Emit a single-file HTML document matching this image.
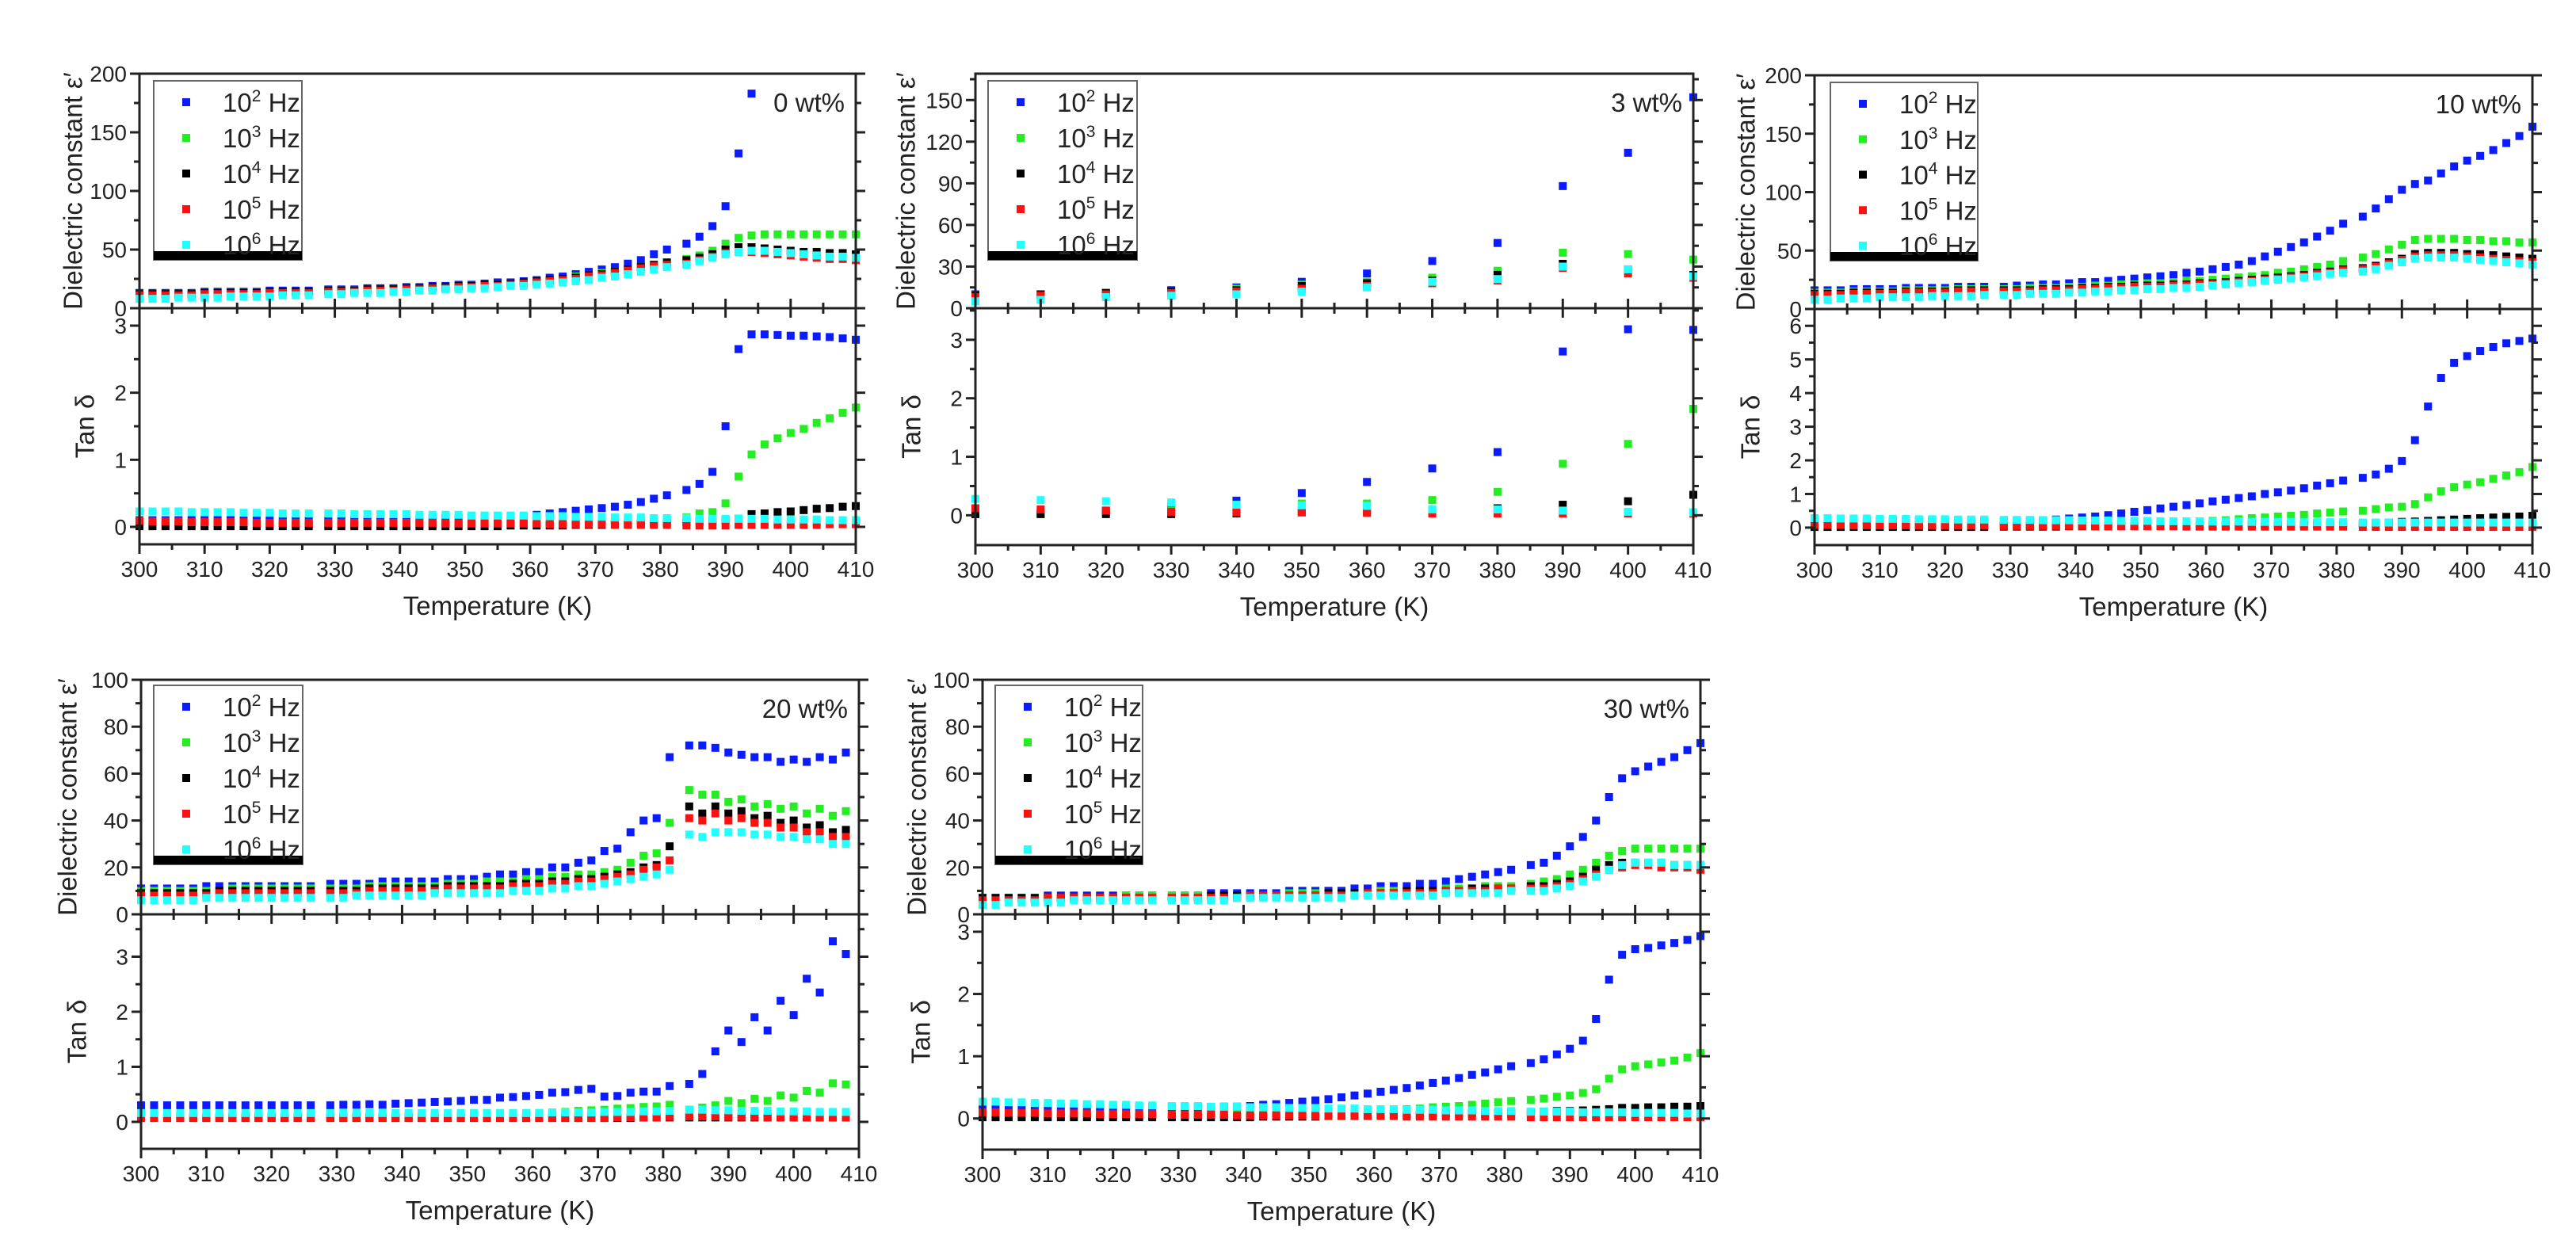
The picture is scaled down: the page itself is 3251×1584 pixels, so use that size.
<!DOCTYPE html>
<html><head><meta charset="utf-8"><style>
html,body{margin:0;padding:0;background:#fff;}
svg{display:block;font-family:"Liberation Sans",Arial,sans-serif;}
</style></head><body>
<svg id="fig" width="3251" height="1584" viewBox="0 0 3251 1584" xmlns="http://www.w3.org/2000/svg"></svg>
<script>
// ---------- data ----------
const T = [300,302,304,306,308,310,312,314,316,318,320,322,324,326,
 329,331,333,335,337,339,341,343,345,347,349,351,353,355,357,359,361,363,365,367,369,371,373,375,377,379,381,
 384,386,388,390,392,394,396,398,400,402,404,406,408,410];
const T10 = [300,310,320,330,340,350,360,370,380,390,400,410];
const T408 = [300,302,304,306,308,310,312,314,316,318,320,322,324,326,
 329,331,333,335,337,339,341,343,345,347,349,351,353,355,357,359,361,363,365,367,369,371,373,375,377,379,381,
 384,386,388,390,392,394,396,398,400,402,404,406,408];
const seriesNames = ["10^2 Hz","10^3 Hz","10^4 Hz","10^5 Hz","10^6 Hz"];
const legendExps = ["2","3","4","5","6"];
const sampleLabels = ["0 wt%","3 wt%","10 wt%","20 wt%","30 wt%"];

// 0 wt%
const eps0_f2 = [13,13,13,13,13,14,14,14,14,14,15,15,15,15, 16,16,16,17,17,17,18,18,19,19,20,20,21,22,22,23, 24,26,27,29,31,33,35,38,41,46,50, 55,61,70,87,132,183,250,260,270,280,290,300,310,320];
const eps0_f3 = [12,12,12,12,12,13,13,13,13,13,14,14,14,14, 15,15,15,16,16,16,17,17,18,18,19,19,20,20,21,22, 23,24,25,27,28,30,31,33,35,37,39, 42,45,49,55,60,62,63,63,63,63,63,63,63,63];
const eps0_f4 = [12,12,12,12,12,13,13,13,13,13,14,14,14,14, 15,15,15,16,16,16,17,17,18,18,19,19,20,20,21,22, 23,24,25,26,28,29,31,33,35,37,39, 41,43,46,50,52,52,51,50,49,48,48,47,47,46];
const eps0_f5 = [11,11,11,11,11,12,12,12,12,12,13,13,13,13, 14,14,14,15,15,15,16,16,17,17,18,18,19,19,20,21, 22,23,24,25,27,28,30,32,34,36,37, 38,41,44,47,48,48,47,46,45,44,43,42,42,41];
const eps0_f6 = [8,8,8,9,9,9,9,10,10,10,10,11,11,11, 12,12,13,13,13,14,14,15,15,16,16,17,17,18,19,19, 20,21,22,23,24,26,27,29,31,33,35, 37,40,43,46,48,49,49,48,47,46,45,44,44,43];
const tan0_f2 = [0.1,0.1,0.1,0.1,0.1,0.1,0.1,0.1,0.1,0.1,0.1,0.1,0.1,0.1, 0.11,0.11,0.11,0.11,0.11,0.12,0.12,0.12,0.12,0.13,0.13,0.13,0.14,0.14,0.15,0.15, 0.18,0.2,0.22,0.24,0.26,0.28,0.3,0.33,0.37,0.42,0.47, 0.55,0.64,0.82,1.5,2.65,2.87,2.87,2.86,2.85,2.85,2.84,2.83,2.81,2.79];
const tan0_f3 = [0.05,0.05,0.05,0.05,0.05,0.05,0.05,0.05,0.05,0.05,0.05,0.05,0.05,0.05, 0.05,0.05,0.05,0.05,0.05,0.05,0.05,0.05,0.05,0.05,0.05,0.06,0.06,0.06,0.06,0.06, 0.07,0.07,0.07,0.08,0.08,0.08,0.09,0.09,0.1,0.1,0.11, 0.14,0.2,0.22,0.35,0.75,1.08,1.23,1.32,1.4,1.46,1.55,1.62,1.7,1.78];
const tan0_f4 = [0.01,0.01,0.01,0.01,0.01,0.01,0.01,0.01,0.01,0.01,0.01,0.01,0.01,0.01, 0.01,0.01,0.01,0.01,0.01,0.01,0.01,0.01,0.01,0.01,0.01,0.01,0.01,0.01,0.02,0.02, 0.02,0.02,0.02,0.03,0.03,0.03,0.04,0.04,0.05,0.05,0.06, 0.07,0.08,0.09,0.1,0.12,0.19,0.2,0.22,0.23,0.25,0.27,0.28,0.3,0.31];
const tan0_f5 = [0.09,0.08,0.08,0.08,0.07,0.07,0.07,0.07,0.07,0.06,0.06,0.06,0.06,0.06, 0.06,0.06,0.06,0.06,0.06,0.06,0.06,0.06,0.06,0.05,0.05,0.05,0.05,0.05,0.05,0.05, 0.05,0.04,0.04,0.04,0.04,0.04,0.03,0.03,0.03,0.03,0.03, 0.02,0.02,0.02,0.02,0.03,0.03,0.03,0.03,0.03,0.03,0.03,0.04,0.04,0.04];
const tan0_f6 = [0.23,0.23,0.23,0.23,0.22,0.22,0.22,0.22,0.21,0.21,0.21,0.2,0.2,0.2, 0.2,0.2,0.19,0.19,0.19,0.19,0.19,0.18,0.18,0.18,0.18,0.17,0.17,0.17,0.17,0.17, 0.16,0.16,0.16,0.15,0.15,0.15,0.14,0.14,0.14,0.13,0.13, 0.13,0.12,0.12,0.12,0.12,0.12,0.12,0.11,0.11,0.11,0.11,0.1,0.1,0.1];

// 3 wt%
const eps3_f2 = [10,10,11,13,15,19,25,34,47,88,112,152];
const eps3_f3 = [9,10,11,12,14,17,19,22,27,40,39,35];
const eps3_f4 = [9,10,11,12,13,16,18,20,24,32,28,24];
const eps3_f5 = [8,9,10,11,12,14,16,18,20,29,25,22];
const eps3_f6 = [5,6,8,9,10,12,15,19,21,30,28,23];
const tan3_f2 = [0.05,0.05,0.08,0.15,0.25,0.38,0.57,0.8,1.08,2.8,3.18,3.17];
const tan3_f3 = [0.02,0.03,0.05,0.08,0.15,0.2,0.2,0.26,0.4,0.88,1.22,1.82];
const tan3_f4 = [0.02,0.02,0.02,0.02,0.03,0.05,0.06,0.08,0.12,0.18,0.24,0.35];
const tan3_f5 = [0.12,0.1,0.08,0.06,0.05,0.05,0.04,0.03,0.03,0.03,0.03,0.03];
const tan3_f6 = [0.28,0.26,0.24,0.22,0.18,0.17,0.16,0.1,0.1,0.08,0.06,0.05];

// 10 wt%
const eps10_f2 = [16,16,16,17,17,17,17,18,18,18,18,19,19,19, 19,20,20,21,21,22,23,23,24,25,26,27,28,29,31,32, 34,36,38,41,45,49,53,57,62,67,73, 79,86,94,102,107,110,116,122,127,131,136,142,148,156];
const eps10_f3 = [14,14,14,15,15,15,15,16,16,16,16,17,17,17, 17,17,18,18,18,19,19,20,20,21,21,22,22,23,24,24, 25,26,27,28,29,31,32,34,36,38,41, 44,47,51,55,59,60,60,60,59,59,58,58,57,57];
const eps10_f4 = [13,13,13,14,14,14,14,15,15,15,15,16,16,16, 16,16,16,17,17,17,18,18,19,19,20,20,20,21,21,22, 22,23,24,25,26,27,28,29,31,32,34, 35,37,40,43,47,48,48,48,47,47,46,45,44,43];
const eps10_f5 = [12,12,12,13,13,13,13,14,14,14,14,15,15,15, 15,15,15,16,16,16,17,17,18,18,19,19,19,20,20,21, 21,22,23,24,25,26,27,28,30,31,33, 34,36,39,42,45,46,46,46,45,44,43,42,41,40];
const eps10_f6 = [8,8,9,9,9,10,10,10,10,11,11,11,11,12, 12,12,13,13,13,14,14,15,15,16,16,17,17,18,18,19, 20,21,22,23,24,25,26,27,28,30,31, 32,34,37,40,43,44,44,44,43,42,41,40,39,38];
const tan10_f2 = [0.2,0.2,0.2,0.2,0.2,0.2,0.2,0.2,0.2,0.2,0.2,0.2,0.2,0.2, 0.2,0.2,0.2,0.22,0.24,0.27,0.3,0.33,0.37,0.42,0.47,0.52,0.57,0.62,0.67,0.72, 0.78,0.83,0.88,0.93,1.0,1.05,1.1,1.17,1.25,1.32,1.4, 1.48,1.58,1.75,1.98,2.6,3.6,4.45,4.9,5.1,5.25,5.37,5.48,5.55,5.62];
const tan10_f3 = [0.05,0.05,0.05,0.05,0.05,0.05,0.05,0.05,0.05,0.05,0.05,0.05,0.05,0.05, 0.06,0.06,0.07,0.07,0.08,0.08,0.09,0.1,0.1,0.11,0.12,0.13,0.14,0.15,0.16,0.18, 0.2,0.22,0.25,0.28,0.3,0.33,0.35,0.38,0.42,0.45,0.48, 0.5,0.55,0.6,0.62,0.7,0.9,1.08,1.2,1.28,1.35,1.45,1.55,1.65,1.8];
const tan10_f4 = [0.02,0.02,0.02,0.02,0.02,0.02,0.02,0.02,0.02,0.02,0.02,0.02,0.02,0.02, 0.03,0.03,0.03,0.03,0.03,0.04,0.04,0.04,0.04,0.05,0.05,0.05,0.05,0.06,0.06,0.06, 0.07,0.07,0.07,0.08,0.08,0.08,0.09,0.09,0.1,0.1,0.1, 0.12,0.14,0.15,0.17,0.18,0.2,0.22,0.24,0.26,0.28,0.3,0.32,0.33,0.35];
const tan10_f5 = [0.08,0.08,0.08,0.07,0.07,0.07,0.07,0.07,0.06,0.06,0.06,0.06,0.06,0.06, 0.05,0.05,0.05,0.05,0.05,0.05,0.05,0.04,0.04,0.04,0.04,0.04,0.04,0.04,0.03,0.03, 0.03,0.03,0.03,0.03,0.03,0.03,0.03,0.03,0.03,0.03,0.03, 0.02,0.02,0.02,0.02,0.02,0.02,0.02,0.02,0.02,0.02,0.02,0.02,0.02,0.02];
const tan10_f6 = [0.28,0.28,0.27,0.27,0.27,0.26,0.26,0.26,0.25,0.25,0.25,0.24,0.24,0.24, 0.23,0.23,0.23,0.22,0.22,0.22,0.21,0.21,0.21,0.2,0.2,0.2,0.19,0.19,0.19,0.19, 0.18,0.18,0.18,0.17,0.17,0.17,0.17,0.16,0.16,0.16,0.16, 0.15,0.15,0.15,0.15,0.15,0.15,0.15,0.15,0.15,0.15,0.15,0.15,0.15,0.15];

// 20 wt%
const eps20_f2 = [11,11,11,11,11,12,12,12,12,12,12,12,12,12, 13,13,13,13,14,14,14,14,14,15,15,15, 16,17,17,18,18,20,20,22,23,27,28,35,40,41,67, 72,72,71,69,68,67,67,65,66,65,67,66,69];
const eps20_f3 = [10,10,10,10,10,10,10,11,11,11,11,11,11,11, 11,11,11,12,12,12,12,12,12,13,13,13, 14,14,14,15,15,16,16,17,17,18,19,22,25,26,39, 53,51,51,48,49,46,47,45,46,43,45,42,44];
const eps20_f4 = [9,9,9,9,9,9,10,10,10,10,10,10,10,10, 10,10,10,11,11,11,11,11,11,12,12,12, 12,12,13,13,13,14,14,15,15,16,17,18,20,21,29, 46,43,46,43,44,41,42,39,40,37,38,35,36];
const eps20_f5 = [8,8,8,8,8,8,9,9,9,9,9,9,9,9, 9,9,9,10,10,10,10,10,10,11,11,11, 11,11,12,12,12,13,13,14,14,15,16,17,19,20,23, 41,40,43,40,41,39,39,37,37,35,35,33,33];
const eps20_f6 = [6,6,6,6,6,7,7,7,7,7,7,7,7,7, 7,7,8,8,8,8,8,8,9,9,9,9, 9,9,10,10,10,11,11,12,12,13,14,15,16,17,19, 34,33,35,35,35,34,34,33,33,32,32,30,30];
const tan20_f2 = [0.3,0.3,0.3,0.3,0.3,0.3,0.3,0.3,0.3,0.3,0.3,0.3,0.3,0.3, 0.3,0.31,0.31,0.32,0.31,0.33,0.34,0.35,0.36,0.37,0.38,0.4, 0.4,0.44,0.45,0.47,0.49,0.53,0.54,0.58,0.6,0.46,0.47,0.53,0.55,0.55,0.65, 0.69,0.87,1.28,1.66,1.45,1.9,1.66,2.2,1.94,2.6,2.35,3.28,3.05];
const tan20_f3 = [0.1,0.1,0.1,0.1,0.1,0.1,0.1,0.1,0.1,0.1,0.1,0.1,0.1,0.1, 0.1,0.1,0.1,0.1,0.1,0.1,0.1,0.1,0.1,0.1,0.1,0.1, 0.12,0.13,0.14,0.15,0.16,0.17,0.18,0.2,0.21,0.22,0.24,0.25,0.27,0.28,0.31, 0.22,0.26,0.3,0.38,0.34,0.42,0.38,0.48,0.44,0.56,0.53,0.7,0.68];
const tan20_f4 = [0.07,0.07,0.07,0.07,0.07,0.07,0.07,0.07,0.07,0.07,0.07,0.07,0.07,0.07, 0.07,0.07,0.07,0.07,0.07,0.07,0.07,0.07,0.07,0.07,0.07,0.07, 0.07,0.07,0.07,0.07,0.07,0.07,0.07,0.07,0.07,0.07,0.07,0.07,0.08,0.08,0.08, 0.08,0.08,0.08,0.08,0.08,0.08,0.08,0.08,0.08,0.08,0.08,0.08,0.08];
const tan20_f5 = [0.07,0.07,0.07,0.07,0.07,0.07,0.07,0.07,0.07,0.07,0.07,0.07,0.07,0.07, 0.07,0.07,0.07,0.07,0.07,0.07,0.07,0.07,0.07,0.07,0.07,0.07, 0.07,0.07,0.07,0.07,0.07,0.07,0.07,0.07,0.07,0.07,0.08,0.08,0.08,0.08,0.09, 0.1,0.1,0.1,0.09,0.09,0.09,0.08,0.08,0.08,0.08,0.08,0.08,0.08];
const tan20_f6 = [0.16,0.16,0.16,0.16,0.16,0.16,0.16,0.16,0.16,0.16,0.16,0.16,0.16,0.16, 0.16,0.16,0.16,0.16,0.16,0.16,0.16,0.16,0.16,0.16,0.16,0.16, 0.16,0.16,0.16,0.16,0.16,0.17,0.17,0.17,0.17,0.18,0.18,0.18,0.19,0.19,0.2, 0.22,0.22,0.21,0.21,0.2,0.2,0.2,0.19,0.19,0.19,0.18,0.18,0.18];

// 30 wt%
const eps30_f2 = [7,7,7,7,7,8,8,8,8,8,8,8,8,8, 8,8,8,9,9,9,9,9,9,10,10,10,10,10,11,11,12,12,12,13,13,14,15,16,17,18,19, 21,22,25,29,33,40,50,58,61,63,65,67,70,73];
const eps30_f3 = [7,7,7,7,7,7,7,7,7,7,7,8,8,8, 8,8,8,8,8,8,8,8,8,9,9,9,9,9,9,9,10,10,10,10,10,11,11,11,12,12,12, 13,14,15,17,19,22,25,27,28,28,28,28,28,28];
const eps30_f4 = [7,7,7,7,7,7,7,7,7,7,7,7,7,7, 7,7,7,8,8,8,8,8,8,8,8,8,9,9,9,9,9,9,10,10,10,10,10,11,11,11,11, 12,12,13,14,16,19,21,22,22,22,22,21,21,21];
const eps30_f5 = [6,6,6,6,6,7,7,7,7,7,7,7,7,7, 7,7,7,7,7,7,8,8,8,8,8,8,8,8,8,9,9,9,9,9,9,10,10,10,10,11,11, 11,11,12,13,15,17,19,20,21,21,20,20,20,19];
const eps30_f6 = [4,4,5,5,5,5,5,6,6,6,6,6,6,6, 6,6,6,6,6,7,7,7,7,7,7,7,7,7,8,8,8,8,8,8,8,9,9,9,9,9,10, 10,10,11,12,14,16,19,21,22,22,22,21,21,21];
const tan30_f2 = [0.18,0.18,0.18,0.18,0.18,0.18,0.18,0.18,0.18,0.18,0.18,0.18,0.18,0.18, 0.18,0.18,0.18,0.18,0.19,0.19,0.2,0.22,0.23,0.25,0.27,0.29,0.31,0.34,0.37,0.4,0.43,0.46,0.49,0.53,0.57,0.61,0.65,0.7,0.74,0.79,0.84, 0.89,0.95,1.03,1.12,1.25,1.6,2.23,2.63,2.72,2.74,2.78,2.82,2.87,2.93];
const tan30_f3 = [0.05,0.05,0.05,0.05,0.05,0.05,0.05,0.05,0.05,0.05,0.05,0.05,0.05,0.05, 0.05,0.05,0.05,0.06,0.06,0.06,0.07,0.07,0.08,0.08,0.09,0.09,0.1,0.1,0.11,0.12,0.13,0.14,0.15,0.16,0.18,0.19,0.2,0.22,0.24,0.26,0.28, 0.3,0.32,0.35,0.37,0.41,0.47,0.64,0.79,0.84,0.87,0.9,0.93,0.98,1.05];
const tan30_f4 = [0.02,0.02,0.02,0.02,0.02,0.02,0.02,0.02,0.02,0.02,0.02,0.02,0.02,0.02, 0.02,0.02,0.02,0.02,0.02,0.02,0.02,0.03,0.03,0.03,0.03,0.03,0.04,0.04,0.04,0.05,0.05,0.05,0.06,0.06,0.06,0.07,0.07,0.08,0.08,0.09,0.09, 0.1,0.11,0.12,0.12,0.13,0.14,0.15,0.17,0.17,0.18,0.18,0.19,0.19,0.2];
const tan30_f5 = [0.1,0.1,0.09,0.09,0.09,0.08,0.08,0.08,0.08,0.07,0.07,0.07,0.07,0.07, 0.06,0.06,0.06,0.06,0.06,0.05,0.05,0.05,0.05,0.05,0.05,0.04,0.04,0.04,0.04,0.04,0.04,0.04,0.03,0.03,0.03,0.03,0.03,0.03,0.03,0.03,0.03, 0.02,0.02,0.02,0.02,0.02,0.02,0.02,0.02,0.02,0.02,0.02,0.02,0.02,0.02];
const tan30_f6 = [0.27,0.27,0.26,0.26,0.25,0.25,0.24,0.24,0.23,0.23,0.22,0.22,0.21,0.21, 0.2,0.2,0.2,0.19,0.19,0.19,0.18,0.18,0.18,0.17,0.17,0.17,0.16,0.16,0.16,0.15,0.15,0.15,0.14,0.14,0.14,0.13,0.13,0.13,0.12,0.12,0.12, 0.11,0.11,0.11,0.11,0.1,0.1,0.1,0.1,0.09,0.09,0.09,0.09,0.08,0.08];

const colors = ["#0a1cff","#22ee22","#000000","#ff1010","#22ffff"];

// ---------- layout ----------
const panels = [
 {x:T, eps:[eps0_f2,eps0_f3,eps0_f4,eps0_f5,eps0_f6], tan:[tan0_f2,tan0_f3,tan0_f4,tan0_f5,tan0_f6], label:0,
  L:176,R:1080,top:93,mid:389,bot:687, eMin:0,eMax:200,eStep:50, tMin:-0.26,tMax:3.26,tStep:1, leg:[194,102,381,328], ytx:95, ttx:110},
 {x:T10, eps:[eps3_f2,eps3_f3,eps3_f4,eps3_f5,eps3_f6], tan:[tan3_f2,tan3_f3,tan3_f4,tan3_f5,tan3_f6], label:1,
  L:1231,R:2137,top:93,mid:389,bot:688, eMin:0,eMax:169,eStep:30, tMin:-0.51,tMax:3.54,tStep:1, leg:[1247,102,1435,328], ytx:1146, ttx:1153},
 {x:T, eps:[eps10_f2,eps10_f3,eps10_f4,eps10_f5,eps10_f6], tan:[tan10_f2,tan10_f3,tan10_f4,tan10_f5,tan10_f6], label:2,
  L:2290,R:3196,top:95,mid:390,bot:688, eMin:0,eMax:200,eStep:50, tMin:-0.52,tMax:6.5,tStep:1, leg:[2310,104,2496,329], ytx:2206, ttx:2212},
 {x:T408, eps:[eps20_f2,eps20_f3,eps20_f4,eps20_f5,eps20_f6], tan:[tan20_f2,tan20_f3,tan20_f4,tan20_f5,tan20_f6], label:3,
  L:178,R:1084,top:858,mid:1154,bot:1450, eMin:0,eMax:100,eStep:20, tMin:-0.49,tMax:3.77,tStep:1, leg:[194,865,382,1091], ytx:88, ttx:100},
 {x:T, eps:[eps30_f2,eps30_f3,eps30_f4,eps30_f5,eps30_f6], tan:[tan30_f2,tan30_f3,tan30_f4,tan30_f5,tan30_f6], label:4,
  L:1240,R:2146,top:858,mid:1154,bot:1451, eMin:0,eMax:100,eStep:20, tMin:-0.5,tMax:3.28,tStep:1, leg:[1256,865,1442,1091], ytx:1160, ttx:1165}
];

const NS = "http://www.w3.org/2000/svg";
const svg = document.getElementById("fig");
function mk(tag, attrs, parent){
  const e = document.createElementNS(NS, tag);
  for (const k in attrs) e.setAttribute(k, attrs[k]);
  (parent||svg).appendChild(e);
  return e;
}
const defs = mk("defs",{});
const SQ = 10;

panels.forEach((p, pi) => {
  const g = mk("g",{});
  
  
  const xs = v => p.L + (v-300)/(410-300)*(p.R-p.L);
  const ye = v => p.mid - (v-p.eMin)/(p.eMax-p.eMin)*(p.mid-p.top);
  const yt = v => p.bot - (v-p.tMin)/(p.tMax-p.tMin)*(p.bot-p.mid);

  const c1 = mk("clipPath",{id:"ce"+pi},defs); mk("rect",{x:p.L-6,y:p.top,width:p.R-p.L+12,height:p.mid-p.top},c1);
  const c2 = mk("clipPath",{id:"ct"+pi},defs); mk("rect",{x:p.L-6,y:p.mid,width:p.R-p.L+12,height:p.bot-p.mid},c2);

  const ge = mk("g",{"clip-path":"url(#ce"+pi+")"},g);
  
  
  const gt = mk("g",{"clip-path":"url(#ct"+pi+")"},g);
  
  
  for (let s=0;s<5;s++){
    p.x.forEach((xv,i)=>{
      const v = p.eps[s][i];
      const r = mk("rect",{x:xs(xv)-SQ/2,y:ye(v)-SQ/2,width:SQ,height:SQ,fill:colors[s]},ge);
      
      
      const w = p.tan[s][i];
      const r2 = mk("rect",{x:xs(xv)-SQ/2,y:yt(w)-SQ/2,width:SQ,height:SQ,fill:colors[s]},gt);
      
      
    });
  }

  const ax = mk("g",{stroke:"#222","stroke-width":3,fill:"none"},g);
  
  
  mk("rect",{x:p.L,y:p.top,width:p.R-p.L,height:p.bot-p.top},ax);
  mk("line",{x1:p.L-12,y1:p.mid,x2:p.R+12,y2:p.mid},ax);

  const tl = mk("g",{"font-size":28,fill:"#222","text-anchor":"middle"},g);
  
  
  for (let v=300; v<=410; v+=5){
    const X = xs(v), major = v%10===0, len = major?12:7;
    mk("line",{x1:X,y1:p.bot,x2:X,y2:p.bot+len},ax);
    mk("line",{x1:X,y1:p.mid,x2:X,y2:p.mid-len},ax);
    mk("line",{x1:X,y1:p.mid,x2:X,y2:p.mid+len},ax);
    if (major){ const t = mk("text",{x:X,y:p.bot+41},tl); t.textContent = v; }
  }
  const yl = mk("g",{"font-size":28,fill:"#222","text-anchor":"end"},g);
  
  
  for (let k=0; k*p.eStep/2 + p.eMin <= p.eMax+0.001; k++){
    const v = p.eMin + k*p.eStep/2, Y = ye(v), major = k%2===0, len = major?12:7;
    mk("line",{x1:p.L,y1:Y,x2:p.L-len,y2:Y},ax);
    mk("line",{x1:p.R,y1:Y,x2:p.R+len,y2:Y},ax);
    if (major){ const t = mk("text",{x:p.L-16,y:Y+10},yl); t.textContent = v; }
  }
  for (let v=0; v<=p.tMax+0.001; v+=p.tStep/2){
    const Y = yt(v), major = Math.abs(v-Math.round(v))<0.01, len = major?12:7;
    mk("line",{x1:p.L,y1:Y,x2:p.L-len,y2:Y},ax);
    mk("line",{x1:p.R,y1:Y,x2:p.R+len,y2:Y},ax);
    if (major){ const t = mk("text",{x:p.L-16,y:Y+10},yl); t.textContent = Math.round(v); }
  }

  const xt = mk("text",{x:(p.L+p.R)/2,y:p.bot+89,"font-size":33,"text-anchor":"middle",fill:"#222"},g);
  xt.textContent = "Temperature (K)";
  
  
  const ey = (p.top+p.mid)/2;
  const et = mk("text",{x:p.ytx,y:ey,"font-size":33,"text-anchor":"middle",fill:"#222",transform:`rotate(-90 ${p.ytx} ${ey})`,"dominant-baseline":"middle"},g);
  et.textContent = "Dielectric constant \u03B5\u2032";
  
  
  const ty = (p.mid+p.bot)/2;
  const tt = mk("text",{x:p.ttx,y:ty,"font-size":33,"text-anchor":"middle",fill:"#222",transform:`rotate(-90 ${p.ttx} ${ty})`,"dominant-baseline":"middle"},g);
  tt.textContent = "Tan \u03B4";
  
  

  const sl = mk("text",{x:p.R-14,y:p.top+48,"font-size":33,"text-anchor":"end",fill:"#222"},g);
  sl.textContent = sampleLabels[p.label];
  
  

  const [lx0,ly0,lx1,ly1] = p.leg;
  const lg = mk("g",{},g);
  
  
  mk("rect",{x:lx0,y:ly0,width:lx1-lx0,height:ly1-ly0,fill:"#fff",stroke:"#666","stroke-width":2},lg);
  mk("rect",{x:lx0,y:ly1-11,width:lx1-lx0,height:11,fill:"#000"},lg);
  const step = (ly1-ly0-46)/4;
  for (let s=0;s<5;s++){
    const cy = ly0+27+s*step;
    const en = mk("g",{},lg);
    
    
    mk("rect",{x:lx0+36,y:cy-5,width:SQ,height:SQ,fill:colors[s]},en);
    const t = mk("text",{x:lx0+87,y:cy+12,"font-size":33,fill:"#222"},en);
    const a = mk("tspan",{},t); a.textContent = "10";
    const b = mk("tspan",{"font-size":21,dy:-13},t); b.textContent = legendExps[s];
    const c = mk("tspan",{dy:13},t); c.textContent = " Hz";
  }
});
</script>
</body></html>
